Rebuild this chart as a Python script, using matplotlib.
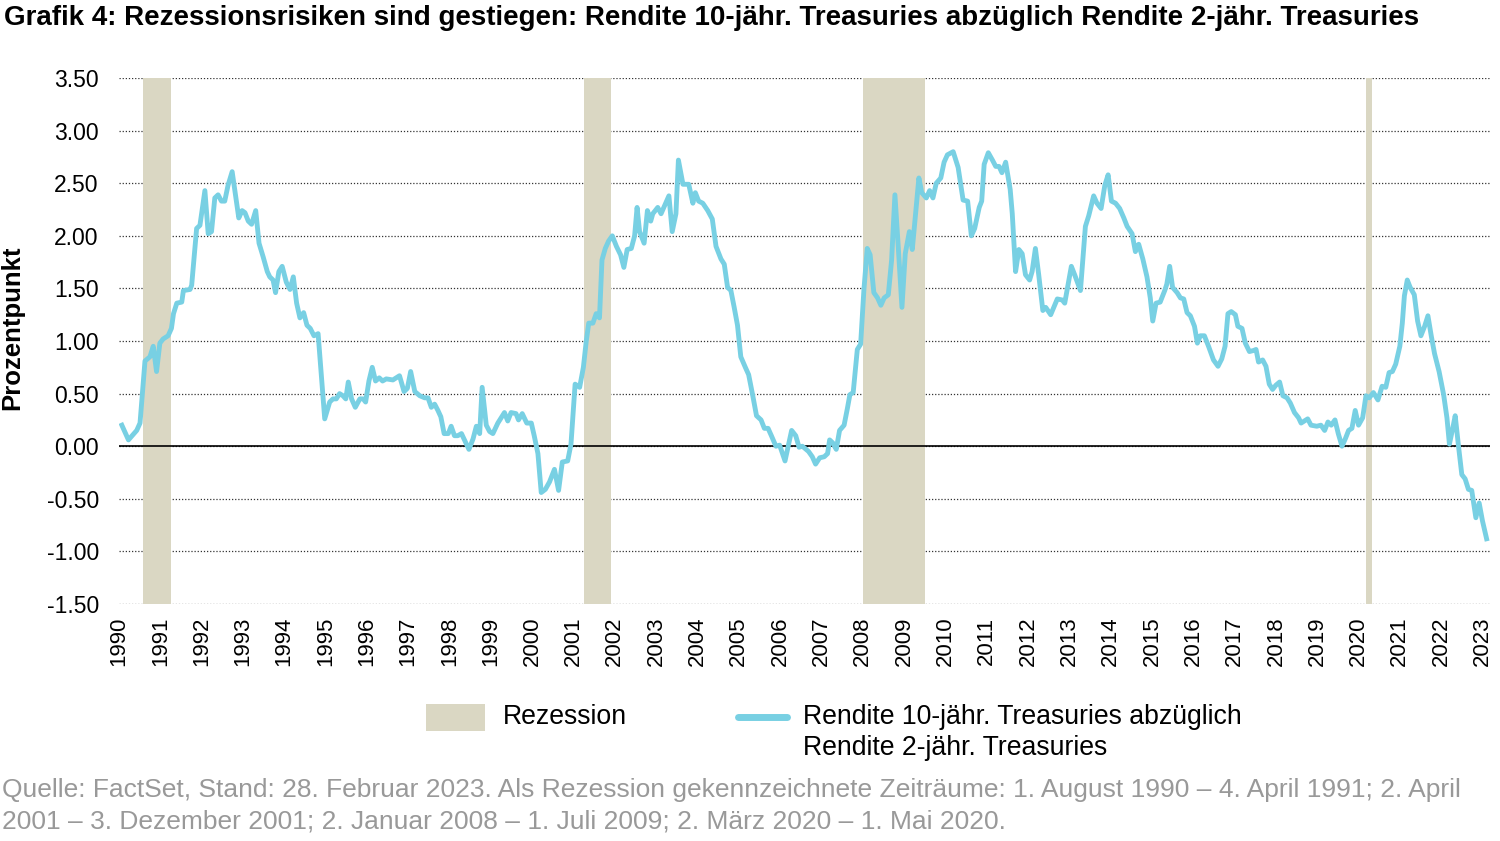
import matplotlib.pyplot as plt
from matplotlib.patches import Rectangle
from matplotlib.lines import Line2D

plt.rcParams['font.family'] = ['Liberation Sans', 'DejaVu Sans']

# Zeitpunkte (Dezimaljahre) und Spread 10J - 2J in Prozentpunkten
dates = [
    1990.07, 1990.23, 1990.43, 1990.51, 1990.63, 1990.75, 1990.83, 1990.91, 1990.99,
    1991.07, 1991.19, 1991.27, 1991.32, 1991.40, 1991.52, 1991.56, 1991.72, 1991.76,
    1991.88, 1991.96, 1992.08, 1992.16, 1992.24, 1992.32, 1992.40, 1992.48, 1992.56,
    1992.64, 1992.74, 1992.90, 1992.98, 1993.05, 1993.13, 1993.21, 1993.31, 1993.39,
    1993.49, 1993.59, 1993.65, 1993.73, 1993.79, 1993.87, 1993.95, 1994.05, 1994.14,
    1994.22, 1994.30, 1994.38, 1994.47, 1994.55, 1994.63, 1994.72, 1994.82, 1994.98,
    1995.10, 1995.18, 1995.26, 1995.34, 1995.42, 1995.49, 1995.55, 1995.63, 1995.72,
    1995.83, 1995.91, 1995.97, 1996.05, 1996.13, 1996.21, 1996.30, 1996.38, 1996.47,
    1996.63, 1996.79, 1996.90, 1996.98, 1997.06, 1997.16, 1997.28, 1997.40, 1997.48,
    1997.56, 1997.64, 1997.72, 1997.79, 1997.87, 1997.97, 1998.04, 1998.12, 1998.20,
    1998.29, 1998.47, 1998.57, 1998.65, 1998.73, 1998.79, 1998.89, 1998.97, 1999.05,
    1999.17, 1999.33, 1999.41, 1999.49, 1999.61, 1999.67, 1999.76, 1999.87, 1999.98,
    2000.05, 2000.14, 2000.22, 2000.32, 2000.42, 2000.54, 2000.64, 2000.73, 2000.86,
    2000.94, 2001.04, 2001.15, 2001.24, 2001.31, 2001.37, 2001.47, 2001.55, 2001.63,
    2001.69, 2001.77, 2001.85, 2001.94, 2002.04, 2002.14, 2002.22, 2002.30, 2002.40,
    2002.48, 2002.54, 2002.60, 2002.71, 2002.79, 2002.87, 2002.92, 2003.04, 2003.12,
    2003.31, 2003.39, 2003.48, 2003.54, 2003.65, 2003.79, 2003.89, 2003.95, 2004.03,
    2004.13, 2004.25, 2004.36, 2004.45, 2004.57, 2004.65, 2004.73, 2004.81, 2004.89,
    2004.97, 2005.05, 2005.16, 2005.24, 2005.34, 2005.43, 2005.54, 2005.62, 2005.71,
    2005.79, 2005.90, 2005.99, 2006.12, 2006.28, 2006.38, 2006.46, 2006.54, 2006.69,
    2006.78, 2006.86, 2006.96, 2007.07, 2007.15, 2007.20, 2007.28, 2007.36, 2007.44,
    2007.55, 2007.63, 2007.69, 2007.77, 2007.87, 2007.95, 2008.03, 2008.11, 2008.18,
    2008.27, 2008.36, 2008.44, 2008.52, 2008.62, 2008.70, 2008.78, 2008.86, 2008.95,
    2009.03, 2009.13, 2009.20, 2009.27, 2009.36, 2009.43, 2009.54, 2009.62, 2009.70,
    2009.78, 2009.89, 2009.97, 2010.05, 2010.19, 2010.31, 2010.43, 2010.54, 2010.63,
    2010.71, 2010.82, 2010.88, 2010.94, 2011.04, 2011.14, 2011.22, 2011.30, 2011.37,
    2011.46, 2011.57, 2011.62, 2011.70, 2011.78, 2011.86, 2011.94, 2012.04, 2012.10,
    2012.18, 2012.26, 2012.36, 2012.43, 2012.55, 2012.71, 2012.83, 2012.89, 2013.05,
    2013.13, 2013.27, 2013.39, 2013.47, 2013.59, 2013.67, 2013.77, 2013.86, 2013.94,
    2014.02, 2014.12, 2014.22, 2014.32, 2014.40, 2014.52, 2014.60, 2014.68, 2014.78,
    2014.88, 2014.96, 2015.02, 2015.10, 2015.20, 2015.31, 2015.36, 2015.43, 2015.50,
    2015.61, 2015.69, 2015.77, 2015.85, 2015.93, 2016.03, 2016.10, 2016.17, 2016.27,
    2016.37, 2016.49, 2016.60, 2016.69, 2016.77, 2016.84, 2016.92, 2017.02, 2017.08,
    2017.18, 2017.26, 2017.36, 2017.46, 2017.52, 2017.58, 2017.68, 2017.76, 2017.84,
    2017.92, 2018.00, 2018.09, 2018.17, 2018.27, 2018.35, 2018.45, 2018.55, 2018.61,
    2018.69, 2018.77, 2018.85, 2018.99, 2019.09, 2019.18, 2019.26, 2019.34, 2019.43,
    2019.51, 2019.60, 2019.68, 2019.76, 2019.84, 2019.92, 2020.00, 2020.10, 2020.18,
    2020.26, 2020.36, 2020.47, 2020.57, 2020.66, 2020.74, 2020.82, 2020.90, 2021.00,
    2021.06, 2021.11, 2021.18, 2021.25, 2021.35, 2021.43, 2021.51, 2021.60, 2021.68,
    2021.76, 2021.84, 2021.95, 2022.06, 2022.14, 2022.20, 2022.28, 2022.34, 2022.42,
    2022.50, 2022.58, 2022.66, 2022.74, 2022.84, 2022.92, 2023.00, 2023.10,
]
spread = [
    0.20, 0.06, 0.15, 0.22, 0.81, 0.85, 0.95, 0.71, 0.98,
    1.02, 1.05, 1.12, 1.26, 1.36, 1.37, 1.48, 1.49, 1.53,
    2.07, 2.10, 2.43, 2.02, 2.04, 2.36, 2.39, 2.33, 2.33,
    2.48, 2.61, 2.17, 2.24, 2.22, 2.14, 2.11, 2.24, 1.93,
    1.80, 1.66, 1.61, 1.58, 1.46, 1.66, 1.71, 1.56, 1.49,
    1.61, 1.36, 1.22, 1.27, 1.15, 1.12, 1.05, 1.07, 0.26,
    0.42, 0.45, 0.45, 0.50, 0.48, 0.45, 0.61, 0.45, 0.37,
    0.45, 0.45, 0.42, 0.62, 0.75, 0.62, 0.65, 0.62, 0.64,
    0.63, 0.67, 0.52, 0.55, 0.71, 0.52, 0.48, 0.46, 0.46,
    0.37, 0.40, 0.34, 0.28, 0.12, 0.12, 0.19, 0.10, 0.10,
    0.12, -0.03, 0.07, 0.19, 0.12, 0.56, 0.20, 0.14, 0.12,
    0.22, 0.32, 0.24, 0.32, 0.31, 0.25, 0.31, 0.22, 0.22,
    0.10, -0.07, -0.44, -0.41, -0.34, -0.22, -0.42, -0.15, -0.14,
    0.02, 0.59, 0.56, 0.75, 1.00, 1.17, 1.17, 1.26, 1.22,
    1.77, 1.88, 1.95, 2.00, 1.90, 1.82, 1.70, 1.87, 1.88,
    2.00, 2.27, 2.04, 1.93, 2.24, 2.14, 2.21, 2.27, 2.21,
    2.38, 2.04, 2.21, 2.72, 2.49, 2.49, 2.31, 2.41, 2.33,
    2.31, 2.24, 2.16, 1.90, 1.78, 1.73, 1.51, 1.48, 1.32,
    1.15, 0.85, 0.75, 0.68, 0.48, 0.29, 0.25, 0.17, 0.17,
    0.10, 0.00, 0.01, -0.14, 0.15, 0.10, -0.01, 0.00, -0.05,
    -0.10, -0.17, -0.11, -0.10, -0.07, 0.06, 0.03, -0.03, 0.15,
    0.20, 0.36, 0.49, 0.51, 0.92, 0.97, 1.49, 1.88, 1.82,
    1.46, 1.41, 1.34, 1.41, 1.44, 1.77, 2.39, 1.90, 1.32,
    1.83, 2.04, 1.87, 2.17, 2.55, 2.41, 2.36, 2.43, 2.36,
    2.50, 2.55, 2.70, 2.77, 2.80, 2.65, 2.34, 2.33, 2.00,
    2.07, 2.27, 2.33, 2.68, 2.79, 2.72, 2.66, 2.66, 2.60,
    2.70, 2.44, 2.21, 1.66, 1.87, 1.83, 1.63, 1.58, 1.66,
    1.88, 1.63, 1.29, 1.32, 1.25, 1.40, 1.39, 1.36, 1.71,
    1.63, 1.48, 2.09, 2.19, 2.38, 2.31, 2.26, 2.48, 2.58,
    2.33, 2.31, 2.26, 2.17, 2.09, 2.02, 1.85, 1.92, 1.78,
    1.61, 1.41, 1.19, 1.36, 1.37, 1.48, 1.54, 1.71, 1.51,
    1.46, 1.41, 1.40, 1.27, 1.24, 1.14, 0.98, 1.05, 1.05,
    0.95, 0.82, 0.76, 0.83, 0.95, 1.26, 1.28, 1.25, 1.14,
    1.12, 0.98, 0.90, 0.91, 0.92, 0.80, 0.82, 0.76, 0.59,
    0.54, 0.58, 0.61, 0.48, 0.46, 0.41, 0.32, 0.27, 0.22,
    0.24, 0.26, 0.20, 0.19, 0.20, 0.15, 0.23, 0.20, 0.25,
    0.12, 0.00, 0.07, 0.15, 0.17, 0.34, 0.20, 0.27, 0.48,
    0.46, 0.51, 0.44, 0.57, 0.56, 0.70, 0.71, 0.78, 0.95,
    1.17, 1.43, 1.58, 1.51, 1.44, 1.19, 1.05, 1.14, 1.24,
    1.05, 0.88, 0.71, 0.49, 0.27, 0.02, 0.17, 0.29, 0.00,
    -0.27, -0.31, -0.41, -0.42, -0.68, -0.54, -0.71, -0.88,
]

# Rezessionen (Beginn, Ende) als Dezimaljahre
recessions = [(1990.58, 1991.26), (2001.25, 2001.92), (2008.0, 2009.5), (2020.17, 2020.33)]

years = list(range(1990, 2024))
yticks = [-1.5, -1.0, -0.5, 0.0, 0.5, 1.0, 1.5, 2.0, 2.5, 3.0, 3.5]

line_color = '#78D0E3'
rec_color = '#DAD7C3'

fig = plt.figure(figsize=(15, 8.41), dpi=100)
ax = fig.add_axes([0.0793, 0.2818, 0.9137, 0.6254])

for start, end in recessions:
    ax.axvspan(start, end, color=rec_color, lw=0, zorder=1)

ax.axhline(0, color='black', lw=1.2, zorder=2)
ax.plot(dates, spread, color=line_color, lw=3.5, solid_joinstyle='round', zorder=3)

ax.set_xlim(1990.0, 2023.17)
ax.set_ylim(-1.5, 3.5)
ax.set_yticks(yticks)
ax.set_yticklabels([f'{v:.2f}' for v in yticks], fontsize=16.5)
ax.set_xticks(years)
ax.set_xticklabels([str(y) for y in years], rotation=90, fontsize=16)
ax.tick_params(axis='both', length=0)
ax.tick_params(axis='y', pad=14.5)
ax.tick_params(axis='x', pad=9)
for lbl in ax.get_xticklabels():
    lbl.set_verticalalignment('top')

ax.grid(axis='y', color='#333333', linestyle=(0, (1, 1.5)), lw=0.9, zorder=0)
ax.set_axisbelow(True)
for s in ax.spines.values():
    s.set_visible(False)

ax.set_ylabel('Prozentpunkt', fontsize=18.5, fontweight='bold')
ax.yaxis.set_label_coords(-0.069, 0.525)

fig.text(0.003, 0.979, 'Grafik 4: Rezessionsrisiken sind gestiegen: Rendite 10-jähr. Treasuries abzüglich Rendite 2-jähr. Treasuries',
         fontsize=20, fontweight='bold', ha='left', va='center')

# Legende
fig.patches.append(Rectangle((426 / 1500, 1 - 731 / 841), 59 / 1500, 27 / 841,
                             transform=fig.transFigure, facecolor=rec_color, edgecolor='none'))
fig.text(503 / 1500, 1 - 717 / 841, 'Rezession', fontsize=19.2, ha='left', va='center')
fig.lines.append(Line2D([738 / 1500, 787 / 1500], [1 - 717 / 841, 1 - 717 / 841],
                        transform=fig.transFigure, color=line_color, lw=5, solid_capstyle='round'))
fig.text(803 / 1500, 1 - 717 / 841, 'Rendite 10-jähr. Treasuries abzüglich', fontsize=19.2, ha='left', va='center')
fig.text(803 / 1500, 1 - 748 / 841, 'Rendite 2-jähr. Treasuries', fontsize=19.2, ha='left', va='center')

# Quelle
fig.text(0.001, 1 - 790 / 841, 'Quelle: FactSet, Stand: 28. Februar 2023. Als Rezession gekennzeichnete Zeiträume: 1. August 1990 – 4. April 1991; 2. April',
         fontsize=19, color='#999999', ha='left', va='center')
fig.text(0.001, 1 - 821 / 841, '2001 – 3. Dezember 2001; 2. Januar 2008 – 1. Juli 2009; 2. März 2020 – 1. Mai 2020.',
         fontsize=19, color='#999999', ha='left', va='center')

fig.savefig('out.png', dpi=100)
